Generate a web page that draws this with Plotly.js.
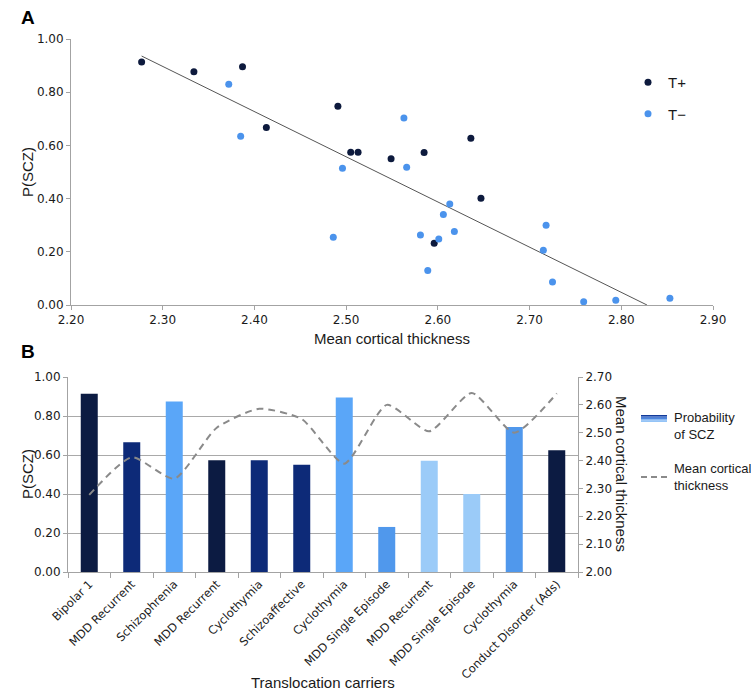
<!DOCTYPE html>
<html>
<head>
<meta charset="utf-8">
<script src="https://cdn.plot.ly/plotly-3.0.1.min.js"></script>
<style>html,body{margin:0;padding:0;background:#fff;}#chart{width:751px;height:700px;}</style>
</head>
<body>
<div id="chart"></div>
<script>
// ---------- DATA ----------
// Panel A: scatter of mean cortical thickness vs P(SCZ)
const tPlusThickness  = [2.277, 2.334, 2.387, 2.413, 2.491, 2.505, 2.513, 2.549, 2.585, 2.636, 2.647, 2.596];
const tPlusPscz       = [0.914, 0.877, 0.896, 0.667, 0.747, 0.574, 0.574, 0.550, 0.573, 0.627, 0.401, 0.232];
const tMinusThickness = [2.372, 2.385, 2.496, 2.486, 2.563, 2.566, 2.613, 2.606, 2.581, 2.601, 2.618, 2.589, 2.718, 2.715, 2.725, 2.759, 2.794, 2.853];
const tMinusPscz      = [0.830, 0.634, 0.514, 0.255, 0.703, 0.518, 0.380, 0.340, 0.263, 0.248, 0.276, 0.130, 0.300, 0.206, 0.086, 0.012, 0.018, 0.025];
const trendThickness  = [2.277, 2.828];
const trendPscz       = [0.936, 0.0];
const xTicksA = [2.2, 2.3, 2.4, 2.5, 2.6, 2.7, 2.8, 2.9];
const yTicksP = [0, 0.2, 0.4, 0.6, 0.8, 1.0];

// Panel B: translocation carriers
const carriers = ["Bipolar 1", "MDD Recurrent", "Schizophrenia", "MDD Recurrent", "Cyclothymia", "Schizoaffective",
                  "Cyclothymia", "MDD Single Episode", "MDD Recurrent", "MDD Single Episode", "Cyclothymia", "Conduct Disorder (Ads)"];
const probSCZ   = [0.914, 0.665, 0.875, 0.573, 0.573, 0.550, 0.895, 0.231, 0.571, 0.400, 0.743, 0.624];
const thickness = [2.277, 2.412, 2.335, 2.518, 2.586, 2.549, 2.389, 2.600, 2.505, 2.643, 2.500, 2.641];
const yTicksThick = [2.0, 2.1, 2.2, 2.3, 2.4, 2.5, 2.6, 2.7];

// ---------- STYLES ----------
const DARK = '#0c1b42', NAVY = '#0d2a78', LIGHT = '#5aa6f8', MID = '#5098ec', PALE = '#9bcbf8';
const barColors = [DARK, NAVY, LIGHT, DARK, NAVY, NAVY, LIGHT, MID, PALE, PALE, MID, DARK];
const T_PLUS = '#0d1a3d', T_MINUS = '#4b93ec';
const AXIS = '#a3a3a3', GRID = '#a9a9a9', TXT = '#1a1a1a';
const NUMFONT = {family: 'DejaVu Sans', size: 12, color: TXT};
const TITLEFONT = {family: 'Liberation Sans, Arial, sans-serif', size: 15, color: TXT};

const W = 751, H = 700;
const px = v => v / W;
const py = v => 1 - v / H;

const idx = carriers.map((_, i) => i);
const bounds = carriers.map((_, i) => i - 0.5).concat([carriers.length - 0.5]);

const traces = [
  {type: 'scatter', mode: 'lines', x: trendThickness, y: trendPscz, xaxis: 'x', yaxis: 'y',
   line: {color: '#555555', width: 1}, showlegend: false, hoverinfo: 'skip'},
  {type: 'scatter', mode: 'markers', name: 'T+', legendgroup: 'a', x: tPlusThickness, y: tPlusPscz, xaxis: 'x', yaxis: 'y',
   marker: {color: T_PLUS, size: 7}, cliponaxis: false},
  {type: 'scatter', mode: 'markers', name: 'T\u2212', legendgroup: 'b', x: tMinusThickness, y: tMinusPscz, xaxis: 'x', yaxis: 'y',
   marker: {color: T_MINUS, size: 7}, cliponaxis: false},
  {type: 'bar', x: idx, y: probSCZ, xaxis: 'x2', yaxis: 'y2', width: 0.4,
   marker: {color: barColors, line: {width: 0}}, showlegend: false, name: 'Probability of SCZ'},
  {type: 'scatter', mode: 'lines', x: idx, y: thickness, xaxis: 'x2', yaxis: 'y3',
   line: {color: '#8a8a8a', width: 2, dash: '7px,5px', shape: 'spline', smoothing: 0.6}, showlegend: false, name: 'Mean cortical thickness'},
  {type: 'scatter', mode: 'markers', x: [0], y: [0], xaxis: 'x3', yaxis: 'y2', marker: {opacity: 0}, showlegend: false, hoverinfo: 'skip'}
];

const baseAxis = {showline: true, linecolor: AXIS, linewidth: 1, ticks: 'outside', tickcolor: AXIS, ticklen: 4,
                  zeroline: false, showgrid: false, tickfont: NUMFONT, fixedrange: true};

// legend B gradient swatch
const gradStops = ['#123a9a', '#2a5cc0', '#4c86de', '#74abf0', '#94c4f7'];
const shapes = [];
const gx0 = 641, gx1 = 667, gy0 = 415, gh = 7;
gradStops.forEach((c, i) => {
  shapes.push({type: 'rect', xref: 'paper', yref: 'paper', x0: px(gx0), x1: px(gx1),
    y0: py(gy0 + gh * i / gradStops.length), y1: py(gy0 + gh * (i + 1) / gradStops.length),
    fillcolor: c, line: {width: 0}});
});
shapes.push({type: 'line', xref: 'paper', yref: 'paper', x0: px(641), x1: px(667), y0: py(477), y1: py(477),
  line: {color: '#8a8a8a', width: 2, dash: '6px,4px'}});

const ann = (text, x, y, opts) => Object.assign({text, xref: 'paper', yref: 'paper', x: px(x), y: py(y),
  showarrow: false, xanchor: 'center', yanchor: 'middle', font: TITLEFONT}, opts || {});

const annotations = [
  ann('<b>A</b>', 28, 18, {font: {family: 'Liberation Sans, Arial', size: 19, color: '#000'}}),
  ann('<b>B</b>', 28, 351, {font: {family: 'Liberation Sans, Arial', size: 19, color: '#000'}}),
  ann('P(SCZ)', 27, 172, {textangle: -90}),
  ann('Mean cortical thickness', 392, 338),
  ann('P(SCZ)', 27, 474, {textangle: -90}),
  ann('Translocation carriers', 323, 682),
  ann('Mean cortical thickness', 622, 474, {textangle: 90}),
  ann('Probability<br>of SCZ', 672, 426, {xanchor: 'left', align: 'left',
      font: {family: 'Liberation Sans, Arial', size: 13, color: TXT}}),
  ann('Mean cortical<br>thickness', 672, 477, {xanchor: 'left', align: 'left',
      font: {family: 'Liberation Sans, Arial', size: 13, color: TXT}})
];

const layout = {
  width: W, height: H, margin: {l: 0, r: 0, t: 0, b: 0},
  paper_bgcolor: '#ffffff', plot_bgcolor: 'rgba(0,0,0,0)',
  showlegend: true,
  legend: {x: px(628), y: py(66), xanchor: 'left', yanchor: 'top', bgcolor: 'rgba(0,0,0,0)',
           font: {family: 'Liberation Sans, Arial', size: 15, color: TXT}, tracegroupgap: 9, itemwidth: 30},
  xaxis: Object.assign({}, baseAxis, {domain: [px(71), px(713)], range: [2.2, 2.9], tickmode: 'array',
           tickvals: xTicksA, ticktext: xTicksA.map(v => v.toFixed(2)), anchor: 'y'}),
  yaxis: Object.assign({}, baseAxis, {domain: [py(305), py(39)], range: [0, 1], tickmode: 'array',
           tickvals: yTicksP, ticktext: yTicksP.map(v => v.toFixed(2)), anchor: 'x'}),
  xaxis2: Object.assign({}, baseAxis, {domain: [px(68), px(578)], range: [-0.5, carriers.length - 0.5], tickmode: 'array',
           tickvals: idx, ticktext: carriers, ticks: '', tickangle: -45,
           tickfont: {family: 'DejaVu Sans', size: 11.5, color: TXT}, anchor: 'y2'}),
  xaxis3: {overlaying: 'x2', anchor: 'y2', range: [-0.5, carriers.length - 0.5], tickmode: 'array', tickvals: bounds,
           ticks: 'outside', ticklen: 5, tickcolor: AXIS, showticklabels: false, showline: false, showgrid: false,
           zeroline: false, fixedrange: true},
  yaxis2: Object.assign({}, baseAxis, {domain: [py(572), py(377)], range: [0, 1], tickmode: 'array',
           tickvals: yTicksP, ticktext: yTicksP.map(v => v.toFixed(2)), showgrid: true, gridcolor: GRID, gridwidth: 1,
           anchor: 'x2'}),
  yaxis3: Object.assign({}, baseAxis, {overlaying: 'y2', side: 'right', anchor: 'x2', range: [2.0, 2.7], tickmode: 'array',
           tickvals: yTicksThick, ticktext: yTicksThick.map(v => v.toFixed(2))}),
  shapes, annotations
};

Plotly.newPlot('chart', traces, layout, {displayModeBar: false, staticPlot: true});
</script>
</body>
</html>
